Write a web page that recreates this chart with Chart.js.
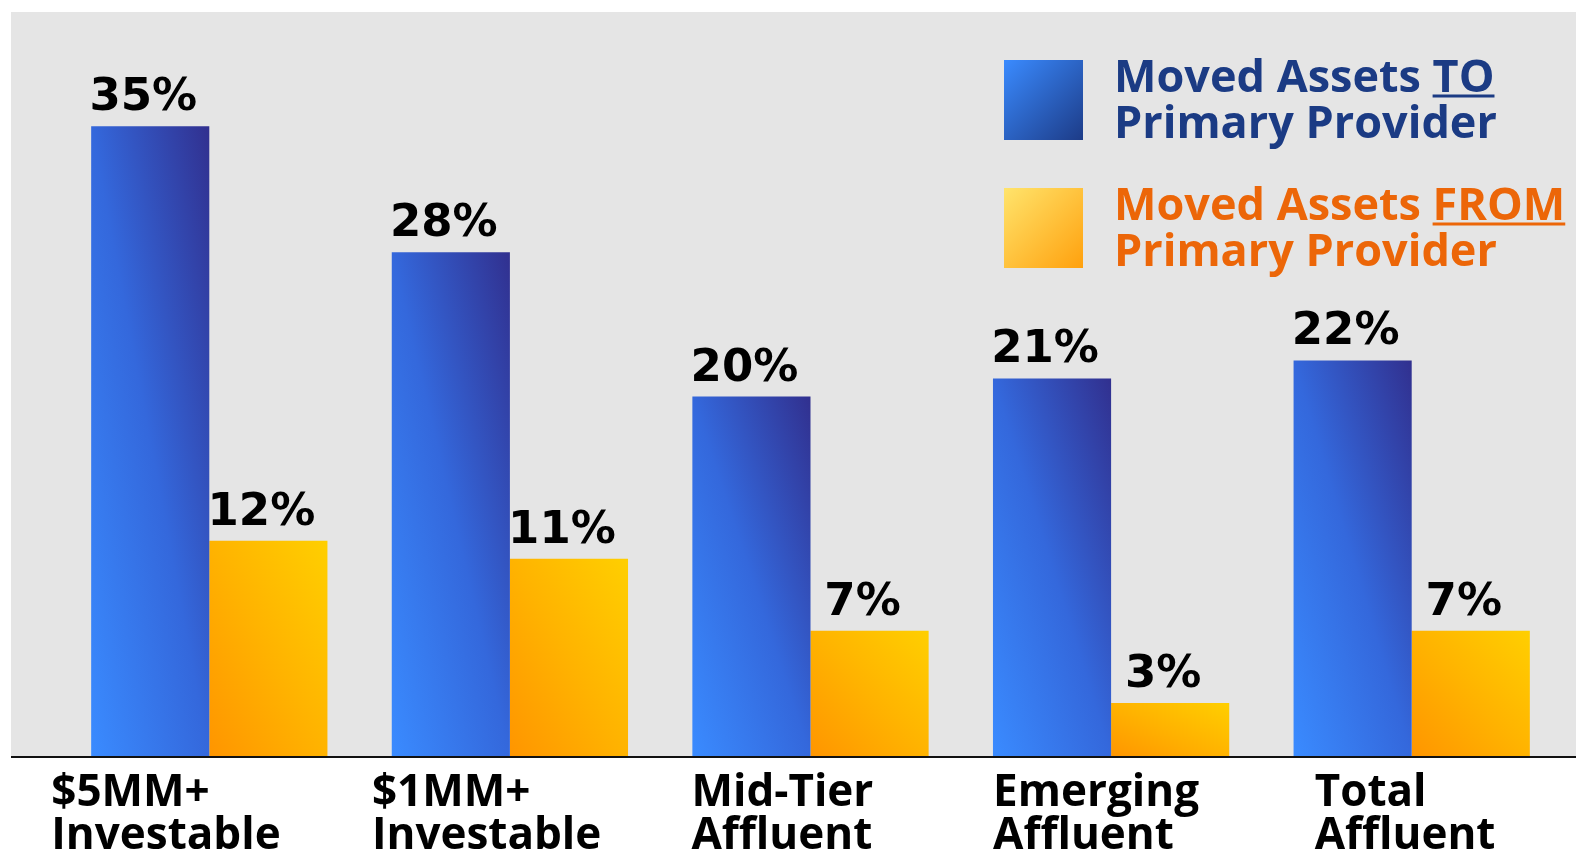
<!DOCTYPE html>
<html>
<head>
<meta charset="utf-8">
<title>Moved Assets</title>
<script src="https://cdn.jsdelivr.net/npm/chart.js@4.4.1/dist/chart.umd.min.js"></script>
<style>
  html, body { margin: 0; padding: 0; background: #fff; }
  #grafico { display: block; }
</style>
</head>
<body>
<canvas id="grafico" width="1576" height="853"></canvas>
<script>
// ---------------- DATOS ----------------
const categorias = [
  ["$5MM+", "Investable"],
  ["$1MM+", "Investable"],
  ["Mid-Tier", "Affluent"],
  ["Emerging", "Affluent"],
  ["Total", "Affluent"]
];
const movedTo = [35, 28, 20, 21, 22];
const movedFrom = [12, 11, 7, 3, 7];

const serieNombres = ["Moved Assets TO Primary Provider", "Moved Assets FROM Primary Provider"];
const serieLineas = [
  ["Moved Assets TO", "Primary Provider"],
  ["Moved Assets FROM", "Primary Provider"]
];
const serieSubrayado = ["TO", "FROM"];

// ---------------- ESTILO ----------------
const CAT_PCT = 0.786;
const azulStops = [[0, "#3a8bff"], [0.5, "#3468dc"], [1, "#31308f"]];
const naranjaStops = [[0, "#ff9500"], [0.5, "#ffb300"], [1, "#ffcf00"]];
const colorTexto = ["#1b3b84", "#ec6608"];
const FUENTE_SANS = "'Open Sans', 'Noto Sans', sans-serif";
const FUENTE_NUM = "'DejaVu Sans', Verdana, sans-serif";

// degradado diagonal relativo a cada barra (esquina inf-izq -> sup-der)
function degradadoBarra(c, stops) {
  const chart = c.chart;
  const area = chart.chartArea;
  const xs = chart.scales.x, ys = chart.scales.y;
  if (!area || !xs || !ys || c.raw == null) return stops[0][1];
  const n = chart.data.labels.length;
  const grupo = (area.right - area.left) / n * CAT_PCT;
  const w = grupo / 2;
  const left = xs.getPixelForValue(c.dataIndex) - grupo / 2 + c.datasetIndex * w;
  const bottom = ys.getPixelForValue(0);
  const h = Math.max(1, bottom - ys.getPixelForValue(c.raw));
  const k = 2 * w * h / (w * w + h * h);
  const g = chart.ctx.createLinearGradient(left, bottom, left + h * k, bottom - w * k);
  stops.forEach(s => g.addColorStop(s[0], s[1]));
  return g;
}

// ---------------- PLUGINS ----------------
const fondo = {
  id: "fondo",
  beforeDraw(chart) {
    const { ctx, chartArea } = chart;
    ctx.save();
    ctx.fillStyle = "#e5e5e5";
    ctx.fillRect(11, 12, chart.width - 11, chartArea.bottom - 12);
    ctx.restore();
  },
  afterDatasetsDraw(chart) {
    const { ctx, chartArea } = chart;
    ctx.save();
    ctx.strokeStyle = "#111";
    ctx.lineWidth = 2;
    ctx.beginPath();
    ctx.moveTo(11, chartArea.bottom);
    ctx.lineTo(chart.width, chartArea.bottom);
    ctx.stroke();
    ctx.restore();
  }
};

const etiquetas = {
  id: "etiquetas",
  afterDatasetsDraw(chart) {
    const ctx = chart.ctx;
    ctx.save();
    ctx.font = "bold 45px " + FUENTE_NUM;
    ctx.fillStyle = "#000";
    ctx.textAlign = "center";
    ctx.textBaseline = "alphabetic";
    chart.data.datasets.forEach((ds, di) => {
      chart.getDatasetMeta(di).data.forEach((el, i) => {
        ctx.fillText(ds.data[i] + "%", el.x - 7, el.y - 16);
      });
    });
    ctx.restore();
  }
};

const categoriasEje = {
  id: "categoriasEje",
  afterDraw(chart, args, opts) {
    const { ctx, chartArea } = chart;
    const xs = chart.scales.x;
    ctx.save();
    ctx.font = "bold 44px " + FUENTE_SANS;
    ctx.fillStyle = "#000";
    ctx.textAlign = "left";
    ctx.textBaseline = "alphabetic";
    chart.data.labels.forEach((lab, i) => {
      const x = xs.getPixelForValue(i) + opts.desplaza[i];
      lab.forEach((linea, j) => {
        ctx.fillText(linea, x, chartArea.bottom + 49 + j * 43);
      });
    });
    ctx.restore();
  }
};

const leyenda = {
  id: "leyenda",
  afterDraw(chart, args, opts) {
    const ctx = chart.ctx;
    ctx.save();
    chart.data.datasets.forEach((ds, di) => {
      const top = opts.y + di * opts.paso;
      // cuadro con degradado
      const sw = opts.cuadro;
      const g = ctx.createLinearGradient(opts.x, top, opts.x + sw, top + sw);
      ds.leyendaStops.forEach(s => g.addColorStop(s[0], s[1]));
      ctx.fillStyle = g;
      ctx.fillRect(opts.x, top, sw, sw + 1);

      ctx.font = "bold 45px " + FUENTE_SANS;
      ctx.fillStyle = colorTexto[di];
      ctx.strokeStyle = colorTexto[di];
      ctx.textAlign = "left";
      ctx.textBaseline = "alphabetic";
      const tx = opts.x + 110;
      const lineas = serieLineas[di];
      lineas.forEach((linea, j) => {
        ctx.fillText(linea, tx, top + 32 + j * 46);
      });
      // subrayado de TO / FROM
      const w1 = ctx.measureText(lineas[0]).width;
      const we = ctx.measureText(serieSubrayado[di]).width;
      ctx.lineWidth = 3;
      ctx.beginPath();
      ctx.moveTo(tx + w1 - we, top + 36);
      ctx.lineTo(tx + w1, top + 36);
      ctx.stroke();
    });
    ctx.restore();
  }
};

// ---------------- GRÁFICO ----------------
new Chart(document.getElementById("grafico"), {
  type: "bar",
  data: {
    labels: categorias,
    datasets: [
      {
        label: serieNombres[0],
        data: movedTo,
        backgroundColor: c => degradadoBarra(c, azulStops),
        leyendaStops: [[0, "#3a8bff"], [1, "#1d3c88"]],
        barPercentage: 1,
        categoryPercentage: CAT_PCT
      },
      {
        label: serieNombres[1],
        data: movedFrom,
        backgroundColor: c => degradadoBarra(c, naranjaStops),
        leyendaStops: [[0, "#ffe46c"], [1, "#ffa10e"]],
        barPercentage: 1,
        categoryPercentage: CAT_PCT
      }
    ]
  },
  options: {
    responsive: false,
    devicePixelRatio: 1,
    animation: false,
    layout: { padding: { left: 59, right: 14, top: 36, bottom: 96 } },
    scales: {
      x: { display: false },
      y: { display: false, min: 0, max: 40 }
    },
    plugins: {
      legend: { display: false },
      tooltip: { enabled: false },
      categoriasEje: { desplaza: [-158, -138, -119, -118, -97] },
      leyenda: { x: 1004, y: 60, paso: 128, cuadro: 79 }
    }
  },
  plugins: [fondo, etiquetas, categoriasEje, leyenda]
});
</script>
</body>
</html>
